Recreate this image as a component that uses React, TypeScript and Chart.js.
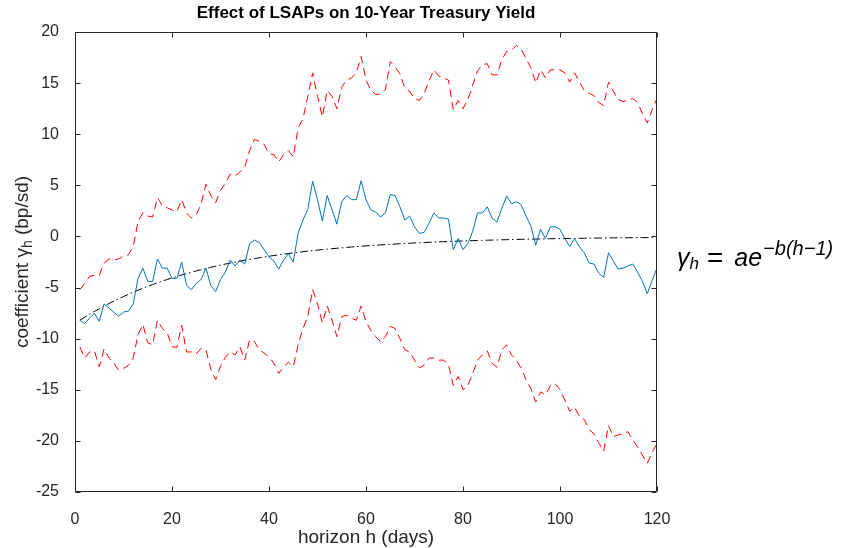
import { useEffect, useRef } from "react";
import { Chart, registerables } from "chart.js";

Chart.register(...registerables);

// horizon h in days (1..120)
const HORIZON: number[] = Array.from({ length: 120 }, (_, i) => i + 1);

// estimated coefficient gamma_h (bp/sd)
const COEF: number[] = [
  -8.2, -8.5, -8.0, -7.5, -8.3, -6.6, -7.0, -7.4, -7.8, -7.4,
  -7.3, -6.6, -4.1, -3.1, -4.4, -4.4, -2.2, -3.1, -3.1, -4.1,
  -4.1, -2.5, -4.8, -5.2, -4.6, -4.2, -3.1, -4.8, -5.4, -4.2,
  -3.5, -2.3, -2.9, -2.3, -2.7, -0.7, -0.35, -0.6, -1.3, -2.0,
  -2.4, -3.2, -2.3, -1.7, -2.5, 0.3, 1.6, 2.65, 5.4, 3.6,
  1.5, 4.0, 2.6, 1.2, 3.4, 4.0, 3.6, 3.6, 5.45, 3.6,
  2.6, 2.4, 1.9, 2.3, 4.1, 4.0, 2.9, 1.6, 2.0, 0.95,
  0.3, 0.4, 1.3, 2.3, 1.8, 1.8, 1.7, -1.3, -0.2, -1.3,
  -0.7, 0.5, 2.3, 2.3, 2.9, 1.8, 1.4, 2.75, 3.95, 3.2,
  3.4, 3.1, 2.0, 1.0, -0.85, 0.7, -0.2, 0.95, 0.95, 0.7,
  -0.2, -1.0, -0.2, -1.0, -1.6, -2.6, -2.7, -3.6, -4.0, -1.6,
  -2.4, -3.2, -3.1, -2.9, -2.7, -3.5, -4.4, -5.6, -4.3, -3.1,
];

// upper confidence band
const UPPER: number[] = [
  -5.2, -4.6, -3.9, -3.8, -3.8, -2.6, -2.2, -2.3, -2.2, -1.9,
  -1.8, -1.0, 1.5, 2.3, 2.0, 1.9, 3.8, 3.0, 2.8, 2.6,
  2.4, 3.6, 2.3, 1.8, 2.1, 3.2, 5.1, 4.0, 3.3, 4.5,
  5.2, 6.1, 5.9, 6.3, 6.8, 8.4, 9.5, 9.3, 9.0, 8.1,
  8.0, 7.3, 8.0, 8.4, 7.8, 10.6, 11.5, 13.7, 16.0, 13.7,
  11.7, 14.3, 13.7, 12.5, 14.6, 15.3, 15.5, 16.0, 17.6, 15.3,
  14.3, 13.9, 13.9, 14.4, 17.1, 16.6, 15.9, 14.5, 14.2, 13.5,
  13.3, 14.0, 15.2, 16.3, 15.7, 15.5, 15.3, 12.4, 13.3, 12.5,
  13.4, 14.8, 16.2, 16.8, 16.9, 15.8, 15.8, 17.3, 18.1, 18.2,
  18.7, 18.3, 17.4, 16.5, 15.0, 16.3, 15.5, 16.3, 16.3, 16.3,
  16.0, 15.1, 16.0, 15.1, 14.3, 14.0, 13.8, 13.1, 12.8, 15.1,
  14.2, 13.4, 13.2, 13.3, 13.5, 13.1, 12.0, 11.1, 12.4, 13.5,
];

// lower confidence band
const LOWER: number[] = [
  -10.8, -11.9, -11.3, -11.2, -12.75, -11.0, -11.9, -12.4, -13.1, -12.9,
  -12.6, -11.9, -9.6, -8.6, -10.4, -10.6, -8.2, -9.0, -9.4, -10.8,
  -10.85, -8.7, -11.3, -11.3, -11.5, -10.95, -11.1, -13.0, -14.0, -12.7,
  -11.8, -11.3, -11.6, -10.8, -12.1, -10.1, -10.3, -11.1, -11.4, -11.8,
  -12.4, -13.4, -12.75, -12.3, -12.75, -10.6, -9.0, -7.8, -5.2, -6.6,
  -8.45, -6.8, -8.2, -9.8, -7.85, -7.7, -8.0, -8.2, -6.8, -8.35,
  -9.2, -9.8, -10.3, -9.8, -8.8, -9.0, -10.0, -11.1, -11.3, -12.1,
  -12.85, -12.6, -11.9, -11.9, -12.1, -12.1, -12.5, -14.6, -13.7, -15.0,
  -14.6, -13.4, -12.1, -11.6, -11.2, -12.4, -12.8, -11.1, -10.6, -11.6,
  -12.1, -12.9, -14.0, -14.9, -16.2, -15.2, -15.5, -14.6, -14.4, -15.0,
  -16.0, -17.1, -16.7, -17.6, -17.9, -18.9, -19.3, -20.2, -21.0, -18.5,
  -19.6, -19.4, -19.3, -19.1, -19.9, -20.6, -21.4, -22.2, -21.1, -20.25,
];

// fitted model gamma_h = a * exp(-b (h-1)), parameters
const FIT_A = -8.2;
const FIT_B = 0.037;

const X_TICKS: number[] = [0, 20, 40, 60, 80, 100, 120];
const Y_TICKS: number[] = [20, 15, 10, 5, 0, -5, -10, -15, -20, -25];

const TITLE = "Effect of LSAPs on 10-Year Treasury Yield";
const X_LABEL = "horizon h (days)";

const FONT = '"Liberation Sans", Arial, Helvetica, sans-serif';
const AXIS_COLOR = "#262626";

type Part = { t: string; size: number; dy: number; italic?: boolean; gap?: number };

function partFont(p: Part) {
  return `${p.italic ? "italic " : ""}${p.size}px ${FONT}`;
}

function measureParts(ctx: CanvasRenderingContext2D, parts: Part[]) {
  let w = 0;
  for (const p of parts) {
    ctx.font = partFont(p);
    w += ctx.measureText(p.t).width + (p.gap || 0);
  }
  return w;
}

function drawParts(ctx: CanvasRenderingContext2D, parts: Part[], x: number, y: number) {
  let cx = x;
  for (const p of parts) {
    ctx.font = partFont(p);
    ctx.fillText(p.t, cx, y + p.dy);
    cx += ctx.measureText(p.t).width + (p.gap || 0);
  }
}

const decorPlugin = {
  id: "decor",
  afterDraw(chart: any) {
    const { ctx, chartArea } = chart;
    const { left, right, top, bottom } = chartArea;
    const xs = chart.scales.x;
    const ys = chart.scales.y;
    ctx.save();
    // box
    ctx.strokeStyle = AXIS_COLOR;
    ctx.lineWidth = 1;
    const L = Math.round(left) + 0.5;
    const R = Math.round(right) - 0.5;
    const T = Math.round(top) + 0.5;
    const B = Math.round(bottom) - 0.5;
    ctx.beginPath();
    ctx.rect(L, T, R - L, B - T);
    ctx.stroke();
    // inward ticks
    const tl = 5;
    ctx.beginPath();
    for (const v of X_TICKS) {
      const px = Math.round(xs.getPixelForValue(v)) + 0.5;
      ctx.moveTo(px, B);
      ctx.lineTo(px, B - tl);
      ctx.moveTo(px, T);
      ctx.lineTo(px, T + tl);
    }
    for (const v of Y_TICKS) {
      const py = Math.round(ys.getPixelForValue(v)) + 0.5;
      ctx.moveTo(L, py);
      ctx.lineTo(L + tl, py);
      ctx.moveTo(R, py);
      ctx.lineTo(R - tl, py);
    }
    ctx.stroke();

    // title
    const cx = (left + right) / 2;
    ctx.fillStyle = "#000000";
    ctx.font = `bold 17px ${FONT}`;
    ctx.textAlign = "center";
    ctx.textBaseline = "middle";
    ctx.fillText(TITLE, cx, 13);

    // x label
    ctx.fillStyle = AXIS_COLOR;
    ctx.font = `19px ${FONT}`;
    ctx.fillText(X_LABEL, cx, 538);

    // y label with subscript
    ctx.textAlign = "left";
    ctx.textBaseline = "alphabetic";
    const yParts: Part[] = [
      { t: "coefficient \u03B3", size: 19, dy: 0 },
      { t: "h", size: 14, dy: 4 },
      { t: " (bp/sd)", size: 19, dy: 0 },
    ];
    const yw = measureParts(ctx, yParts);
    ctx.translate(28, (top + bottom) / 2);
    ctx.rotate(-Math.PI / 2);
    drawParts(ctx, yParts, -yw / 2, 0);
    ctx.setTransform(1, 0, 0, 1, 0, 0);

    // model annotation
    ctx.fillStyle = "#000000";
    const aParts: Part[] = [
      { t: "\u03B3", size: 25, dy: 0, italic: true },
      { t: "h", size: 17, dy: 3, italic: true, gap: 8 },
      { t: "=", size: 28, dy: 1, gap: 11 },
      { t: "ae", size: 25, dy: 0, italic: true, gap: 1 },
      { t: "\u2212b(h\u22121)", size: 20, dy: -11, italic: true },
    ];
    drawParts(ctx, aParts, 677, 266);
    ctx.restore();
  },
};

export default function App() {
  const ref = useRef<HTMLCanvasElement | null>(null);
  useEffect(() => {
    if (!ref.current) return;
    const mk = (arr: number[]) => HORIZON.map((h, i) => ({ x: h, y: arr[i] }));
    const fit = HORIZON.map((h) => ({ x: h, y: FIT_A * Math.exp(-FIT_B * (h - 1)) }));
    const chart = new Chart(ref.current, {
      type: "line",
      data: {
        datasets: [
          {
            label: "coefficient",
            data: mk(COEF),
            borderColor: "#0072BD",
            borderWidth: 1,
            pointRadius: 0,
            tension: 0,
          },
          {
            label: "upper",
            data: mk(UPPER),
            borderColor: "#FF0000",
            borderWidth: 1,
            borderDash: [8, 5],
            pointRadius: 0,
            tension: 0,
          },
          {
            label: "lower",
            data: mk(LOWER),
            borderColor: "#FF0000",
            borderWidth: 1,
            borderDash: [8, 5],
            pointRadius: 0,
            tension: 0,
          },
          {
            label: "fit",
            data: fit,
            borderColor: "#000000",
            borderWidth: 1,
            borderDash: [8, 3, 1.5, 3],
            pointRadius: 0,
            tension: 0,
          },
        ],
      },
      options: {
        responsive: true,
        maintainAspectRatio: false,
        animation: false,
        layout: { padding: { top: 32, right: 194, left: 0, bottom: 0 } },
        plugins: {
          legend: { display: false },
          tooltip: { enabled: false },
          title: { display: false },
        },
        scales: {
          x: {
            type: "linear",
            min: 0,
            max: 120,
            afterBuildTicks: (s: any) => {
              s.ticks = X_TICKS.map((v) => ({ value: v }));
            },
            afterFit: (s: any) => {
              s.height = 56;
            },
            grid: { display: false },
            border: { display: false },
            ticks: {
              color: AXIS_COLOR,
              font: { family: FONT, size: 16 },
              padding: 10,
              maxRotation: 0,
              autoSkip: false,
            },
          },
          y: {
            type: "linear",
            min: -25,
            max: 20,
            afterBuildTicks: (s: any) => {
              s.ticks = Y_TICKS.map((v) => ({ value: v }));
            },
            afterFit: (s: any) => {
              s.width = 75;
            },
            grid: { display: false },
            border: { display: false },
            ticks: {
              color: AXIS_COLOR,
              font: { family: FONT, size: 16 },
              padding: 8,
              autoSkip: false,
            },
          },
        },
      },
      plugins: [decorPlugin],
    });
    return () => chart.destroy();
  }, []);
  return (
    <div style={{ position: "fixed", left: 0, top: 0, width: 851, height: 548, background: "#fff" }}>
      <canvas ref={ref} />
    </div>
  );
}
